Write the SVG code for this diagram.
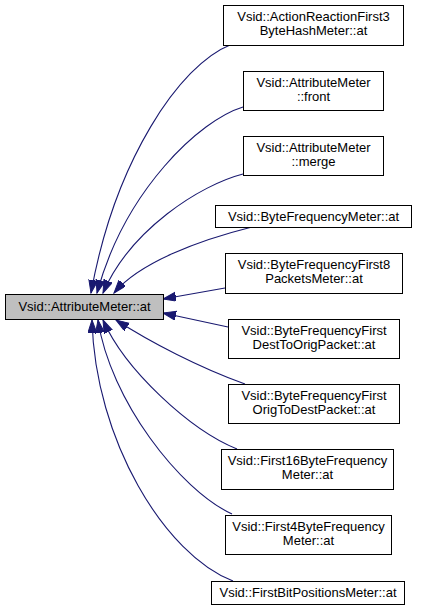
<svg xmlns="http://www.w3.org/2000/svg" width="421" height="612" viewBox="0 0 421 612">
<style>
.node rect{fill:#ffffff;stroke:#000000;stroke-width:1}
.node.main rect{fill:#bfbfbf}
.node text{font-family:"Liberation Sans",Arial,sans-serif;font-size:13px;fill:#000000;text-anchor:middle}
.edge{fill:none;stroke:#191970;stroke-width:1.1;marker-end:url(#arr)}
</style>
<defs>
<marker id="arr" markerUnits="userSpaceOnUse" markerWidth="14" markerHeight="10" refX="13" refY="4.5" orient="auto">
<path d="M0,0 L13,4.5 L0,9 z" fill="#191970" stroke="#191970" stroke-width="1"/>
</marker>
</defs>
<rect x="0" y="0" width="421" height="612" fill="#ffffff"/>
<g id="connectors">
<path class="edge" d="M230,45 C180,65 115,160 91,293"/>
<path class="edge" d="M243,107 C200,120 125,190 97,293"/>
<path class="edge" d="M243,174 C200,185 130,230 103,293"/>
<path class="edge" d="M252,227 C200,240 140,262 114,293"/>
<path class="edge" d="M225,288 L163,299"/>
<path class="edge" d="M228,327 L163,313"/>
<path class="edge" d="M245,384 C200,368 150,342 116,320"/>
<path class="edge" d="M237,449 C190,430 125,370 103,320"/>
<path class="edge" d="M232,514 C180,490 110,400 98,320"/>
<path class="edge" d="M233,581 C165,555 95,440 92,320"/>
</g>
<g id="n0" class="node main">
<rect x="5.5" y="294.5" width="158" height="25"/>
<text x="84.5" y="311">Vsid::AttributeMeter::at</text>
</g>
<g id="n1" class="node">
<rect x="223.5" y="5.5" width="180" height="40"/>
<text x="313.5" y="21">Vsid::ActionReactionFirst3</text>
<text x="313.5" y="35">ByteHashMeter::at</text>
</g>
<g id="n2" class="node">
<rect x="243.5" y="71.5" width="140" height="39"/>
<text x="313.5" y="87">Vsid::AttributeMeter</text>
<text x="313.5" y="101">::front</text>
</g>
<g id="n3" class="node">
<rect x="243.5" y="136.5" width="140" height="39"/>
<text x="313.5" y="152">Vsid::AttributeMeter</text>
<text x="313.5" y="166">::merge</text>
</g>
<g id="n4" class="node">
<rect x="215.5" y="205.5" width="196" height="22"/>
<text x="313.5" y="220.5">Vsid::ByteFrequencyMeter::at</text>
</g>
<g id="n5" class="node">
<rect x="225.5" y="253.5" width="177" height="40"/>
<text x="314" y="269">Vsid::ByteFrequencyFirst8</text>
<text x="314" y="283">PacketsMeter::at</text>
</g>
<g id="n6" class="node">
<rect x="228.5" y="319.5" width="171" height="39"/>
<text x="314" y="335">Vsid::ByteFrequencyFirst</text>
<text x="314" y="349">DestToOrigPacket::at</text>
</g>
<g id="n7" class="node">
<rect x="228.5" y="384.5" width="171" height="39"/>
<text x="314" y="400">Vsid::ByteFrequencyFirst</text>
<text x="314" y="414">OrigToDestPacket::at</text>
</g>
<g id="n8" class="node">
<rect x="221.5" y="449.5" width="172" height="40"/>
<text x="307.5" y="465">Vsid::First16ByteFrequency</text>
<text x="307.5" y="479">Meter::at</text>
</g>
<g id="n9" class="node">
<rect x="225.5" y="515.5" width="166" height="39"/>
<text x="308.5" y="531">Vsid::First4ByteFrequency</text>
<text x="308.5" y="545">Meter::at</text>
</g>
<g id="n10" class="node">
<rect x="211.5" y="581.5" width="193" height="23"/>
<text x="308" y="597">Vsid::FirstBitPositionsMeter::at</text>
</g>
</svg>
